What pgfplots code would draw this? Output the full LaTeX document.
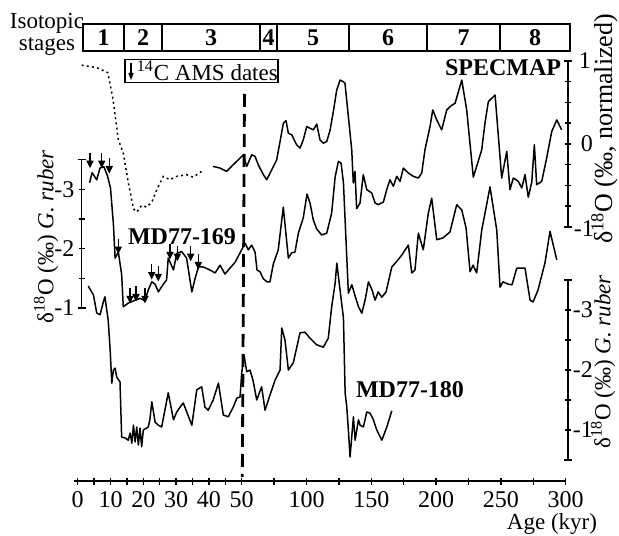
\documentclass[border=0pt]{standalone}
\usepackage{pgfplots}
\pgfplotsset{compat=1.18}
\usepackage{fontspec}
\setmainfont{Liberation Serif}

% small down arrow used for the 14C AMS dates
\pgfdeclareplotmark{amsarrow}{%
  \pgfpathmoveto{\pgfqpoint{0pt}{7pt}}\pgfpathlineto{\pgfqpoint{0pt}{2pt}}\pgfusepathqstroke
  \pgfpathmoveto{\pgfqpoint{-1.4pt}{2.8pt}}\pgfpathlineto{\pgfqpoint{0pt}{0pt}}%
  \pgfpathlineto{\pgfqpoint{1.4pt}{2.8pt}}\pgfpathclose\pgfusepathqfillstroke}

% broken age scale: 0-50 kyr stretched, 50-300 kyr compressed (picture units)
\pgfplotsset{
  agex/.style={x filter/.expression={(x<=50)*(77.7+3.28*x)+(x>50)*(241.7+1.296*(x-50))}},
  specmap/.style={agex, y filter/.expression={391+83*y}},
  mdA/.style={agex, y filter/.expression={167.8-59.3*y}},
  mdB/.style={agex, y filter/.expression={45-60*y}},
  curve/.style={black, line width=0.75pt, line join=round},
}
\newcommand\ftxt{\fontsize{11.5}{13}\selectfont}
\newcommand\fbold{\fontsize{12}{14}\selectfont\bfseries}
\newcommand\ftick{\fontsize{12}{14}\selectfont}

\begin{document}
\begin{tikzpicture}
\begin{axis}[scale only axis, width=309.5pt, height=267.5pt,
  xmin=0, xmax=619, ymin=0, ymax=535, hide axis, clip=false]

% SPECMAP, dotted part
\addplot[curve, specmap, dash pattern=on 1pt off 1.6pt] table {
a v
1.2 0.95
5.8 0.92
9.2 0.86
10.8 0.53
11.4 0.35
12.4 0.05
13.9 -0.11
15.4 -0.46
17.0 -0.78
18.0 -0.82
19.5 -0.74
21.0 -0.76
22.6 -0.70
24.1 -0.55
26.1 -0.39
28.1 -0.43
30.2 -0.39
33.2 -0.37
35.2 -0.40
37.8 -0.33
};
% SPECMAP, solid part
\addplot[curve, specmap] table {
a v
41.3 -0.27
43.4 -0.29
45.4 -0.33
47.4 -0.25
49.5 -0.17
51.2 -0.13
53.9 -0.27
57.7 -0.13
60.3 -0.15
62.8 -0.25
66.7 -0.37
69.3 -0.43
73.2 -0.31
77.0 -0.19
79.6 0.03
82.1 0.25
84.2 0.28
86.0 0.13
88.6 0.11
92.4 -0.01
95.0 -0.05
97.5 0.05
100.2 0.21
102.7 0.19
105.3 0.17
107.9 0.24
110.4 0.05
113.0 0.01
115.6 0.03
118.1 0.16
120.7 0.39
123.3 0.65
125.9 0.77
128.4 0.75
129.7 0.73
132.3 0.33
134.9 -0.07
136.1 -0.47
137.4 -0.33
138.7 -0.78
141.3 -0.71
143.8 -0.37
146.5 -0.55
150.3 -0.59
152.9 -0.71
155.4 -0.73
159.3 -0.70
161.9 -0.55
164.4 -0.43
167.0 -0.51
169.6 -0.39
172.2 -0.45
174.7 -0.29
178.6 -0.35
182.4 -0.39
186.3 -0.41
188.9 -0.35
191.4 -0.07
195.3 0.21
197.4 0.41
200.5 0.29
204.3 0.17
208.2 0.41
211.5 0.46
214.6 0.49
219.8 0.77
223.6 0.41
228.7 -0.40
235.2 -0.07
237.7 0.25
240.3 0.51
245.5 0.59
250.6 -0.41
254.5 -0.09
257.0 -0.55
259.6 -0.41
263.4 -0.45
266.1 -0.53
268.6 -0.37
271.1 -0.64
273.8 -0.46
275.8 -0.01
277.6 -0.49
281.5 -0.45
285.3 -0.17
289.2 0.15
293.1 0.29
296.9 0.17
};

% MD77-169
\addplot[curve, mdA] table {
a v
3.6 -3.11
4.4 -3.28
5.8 -3.16
6.8 -3.36
8.0 -3.38
9.1 -3.22
10.0 -3.02
10.9 -2.40
11.4 -1.84
12.4 -1.94
13.4 -1.56
13.9 -1.02
15.4 -1.08
17.5 -1.13
19.0 -1.16
20.5 -1.12
21.5 -1.30
22.6 -1.44
23.6 -1.40
24.6 -1.27
26.1 -1.40
27.1 -1.47
27.6 -1.84
29.2 -1.64
30.2 -1.92
31.7 -1.95
33.2 -1.84
34.8 -1.27
35.8 -1.50
36.8 -1.69
38.3 -1.69
40.3 -1.64
41.9 -1.59
43.4 -1.72
44.9 -1.57
46.4 -1.67
48.0 -1.77
49.5 -1.93
52.6 -2.09
55.1 -1.98
57.7 -2.06
60.3 -1.94
61.8 -1.64
64.1 -1.61
66.7 -1.49
69.5 -1.44
71.8 -1.44
74.4 -1.74
78.2 -1.98
82.1 -2.70
86.0 -1.84
88.6 -1.93
91.1 -1.94
93.7 -2.26
97.5 -2.52
100.4 -2.92
102.7 -2.77
105.3 -2.48
107.9 -2.33
111.7 -2.23
115.6 -2.26
119.4 -2.60
122.1 -3.21
124.6 -3.47
126.7 -3.44
128.5 -3.11
132.3 -1.25
135.0 -1.39
137.5 -1.20
140.1 -1.02
142.7 -0.91
145.2 -1.13
147.8 -1.44
150.6 -1.30
152.9 -1.13
155.3 -1.27
158.1 -1.18
161.4 -1.27
165.8 -1.69
169.1 -1.77
173.5 -1.89
178.6 -2.06
181.2 -1.59
183.7 -1.64
186.3 -2.26
190.1 -1.98
194.0 -2.60
196.6 -2.85
200.5 -2.15
205.3 -2.18
210.7 -2.28
215.9 -2.74
219.8 -2.65
223.1 -2.35
226.2 -1.61
228.5 -1.72
231.3 -1.59
235.2 -2.31
241.6 -3.04
246.8 -2.31
249.3 -1.35
251.6 -1.44
255.7 -1.40
258.6 -1.39
262.2 -1.67
268.6 -1.67
272.5 -1.13
274.8 -1.10
278.6 -1.30
284.0 -1.76
287.9 -2.29
293.1 -1.81
};
% 14C AMS dates on MD77-169
\addplot[mdA, only marks, mark=amsarrow, mark options={black, fill=black, line width=0.6pt}] table {
a v
3.75 -3.38
7.32 -3.38
9.63 -3.29
12.38 -1.93
15.95 -1.10
17.77 -1.13
20.52 -1.10
22.56 -1.50
24.57 -1.47
28.14 -1.84
30.37 -1.81
34.45 -1.81
36.77 -1.67
};

% MD77-180
\addplot[curve, mdB] table {
a v
3.2 -3.40
4.8 -3.25
5.8 -2.95
6.8 -2.92
7.8 -3.13
8.3 -3.22
9.3 -2.83
9.9 -2.33
10.4 -1.78
10.9 -2.00
11.4 -2.03
11.9 -1.88
12.9 -1.80
13.4 -0.88
14.4 -0.87
15.4 -0.83
16.0 -0.95
16.5 -0.78
17.0 -1.08
17.5 -0.80
18.0 -1.05
18.5 -0.75
19.0 -1.03
19.5 -0.72
20.0 -1.00
21.5 -1.05
22.0 -1.17
22.6 -1.47
23.6 -1.13
24.6 -1.08
25.6 -1.05
27.6 -1.62
29.2 -1.17
30.2 -1.30
31.2 -1.38
32.2 -1.45
34.8 -1.08
36.3 -1.67
37.8 -1.72
38.8 -1.38
39.8 -1.33
41.3 -1.50
42.9 -1.78
44.4 -1.25
45.9 -1.22
47.4 -1.38
48.5 -1.53
49.5 -1.55
50.0 -1.95
51.8 -2.25
53.9 -1.97
56.4 -2.00
58.7 -1.83
61.6 -1.50
65.4 -1.72
68.0 -1.33
71.8 -1.58
75.7 -1.83
79.6 -2.00
80.9 -2.70
83.4 -2.50
86.0 -2.00
89.8 -2.12
95.0 -2.62
98.8 -2.63
102.7 -2.53
107.9 -2.42
113.0 -2.38
116.8 -2.53
119.4 -3.05
122.1 -3.45
123.4 -3.78
125.9 -3.33
128.5 -2.87
129.8 -1.62
131.1 -1.38
132.3 -1.00
133.6 -0.55
136.2 -1.22
137.5 -0.83
140.1 -1.17
141.4 -1.08
143.9 -1.05
146.5 -1.30
149.1 -1.28
151.6 -1.17
154.2 -1.00
158.1 -0.83
162.0 -1.05
165.8 -1.32
};
\end{axis}

% frame, scale bars and labels, in picture pixels (x right, rows down)
\begin{scope}[x=0.5pt, y=-0.5pt, shift={(0,267.5pt)}, line width=0.75pt,
  every node/.style={inner sep=1pt}]
  % isotopic stages
  \node[font=\ftxt] at (47,23) {Isotopic};
  \node[font=\ftxt] at (47,47) {stages};
  \draw (83,24) rectangle (570,51);
  \foreach \x in {124,162,260,277,349,427,500} \draw (\x,24) -- (\x,51);
  \foreach \x/\s in {103.5/1,143/2,211/3,268.5/4,313/5,388/6,463.5/7,535/8}
    \node[font=\fbold] at (\x,38) {\s};
  % AMS box
  \draw (125,59.5) rectangle (278,82.5);
  \draw[line width=0.7pt] (131,63) -- (131,74);
  \fill (128.3,73) -- (131,80) -- (133.7,73) -- cycle;
  \node[font=\ftxt, anchor=west, inner sep=0pt] at (136,71) {\textsuperscript{14}C AMS dates};
  % dashed line at 50 kyr
  \draw[line width=1.4pt, dash pattern=on 6.5pt off 3.5pt] (244.5,94) -- (242.3,477);
  % curve names
  \node[font=\fbold] at (503,68) {SPECMAP};
  \node[font=\fbold] at (182,237) {MD77-169};
  \node[font=\fbold] at (410,390) {MD77-180};
  % SPECMAP scale (right)
  \draw (568,61) -- (568,227);
  \foreach \r in {61,227} \draw (564,\r) -- (572,\r);
  \foreach \r in {81.75,102.5,123.25,144,164.75,185.5,206.25} \draw (565,\r) -- (571,\r);
  \node[font=\ftick, anchor=west] at (576,61) {1};
  \node[font=\ftick, anchor=west] at (578,144) {0};
  \node[font=\ftick, anchor=west] at (571,229) {-1};
  \node[font=\fontsize{13}{15}\selectfont, rotate=90, inner sep=0pt] at (604.5,129) {δ\textsuperscript{18}O (‰, normalized)};
  % MD77-169 scale (left)
  \draw (81.7,159.7) -- (81.7,307.9);
  \foreach \r in {159.7,307.9} \draw (77.7,\r) -- (85.7,\r);
  \foreach \r in {189.3,219,248.6,278.3} \draw (78.7,\r) -- (84.7,\r);
  \foreach \r/\t in {189.3/-3,248.6/-2,307.9/-1} \node[font=\ftick, anchor=east] at (77,\r) {\t};
  \node[font=\ftxt, rotate=90] at (46,237) {δ\textsuperscript{18}O (‰) \textit{G. ruber}};
  % MD77-180 scale (right)
  \draw (568,280) -- (568,460);
  \foreach \r in {280,460} \draw (564,\r) -- (572,\r);
  \foreach \r in {310,340,370,400,430} \draw (565,\r) -- (571,\r);
  \foreach \r/\t in {310/-3,370/-2,430/-1} \node[font=\ftick, anchor=west] at (570,\r) {\t};
  \node[font=\ftxt, rotate=90, inner sep=0pt] at (603,362) {δ\textsuperscript{18}O (‰) \textit{G. ruber}};
  % age axis
  \draw (74,481) -- (566,481);
  \foreach \a in {0,5,...,50} \draw ({77.7+3.28*\a},477.5) -- ++(0,7);
  \foreach \a in {75,100,...,300} \draw ({241.7+1.296*(\a-50)},477.5) -- ++(0,7);
  \foreach \a in {0,10,20,30,40,50} \node[font=\ftick] at ({77.7+3.28*\a},500) {\a};
  \foreach \a in {100,150,200,250,300} \node[font=\ftick] at ({241.7+1.296*(\a-50)},500) {\a};
  \node[font=\ftxt] at (552,524) {Age (kyr)};
  \pgfresetboundingbox
  \useasboundingbox (0,0) rectangle (619,535);
\end{scope}
\end{tikzpicture}
\end{document}
